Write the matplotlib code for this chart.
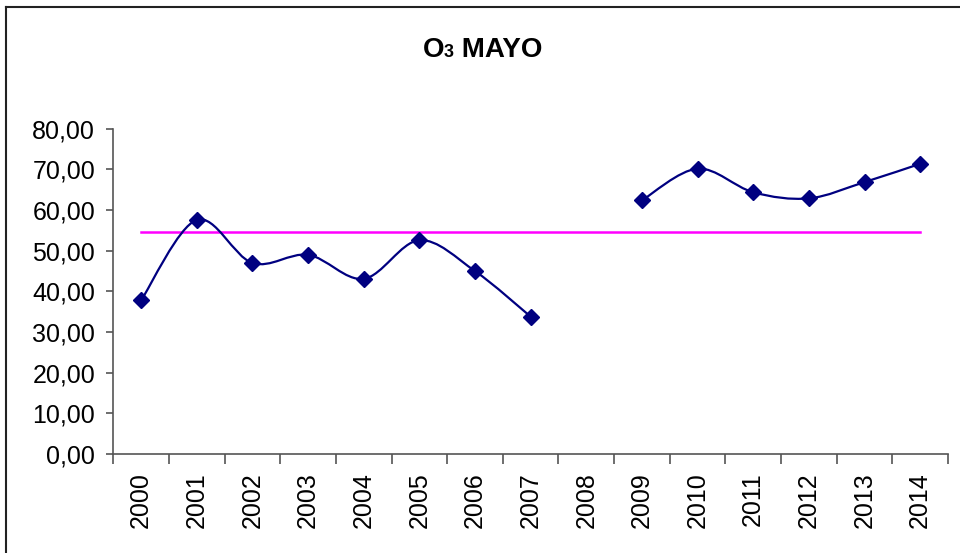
import numpy as np
import matplotlib
matplotlib.use("Agg")
import matplotlib.pyplot as plt
from matplotlib.path import Path
from matplotlib.patches import PathPatch
from matplotlib.lines import Line2D
from matplotlib.ticker import FixedLocator, FuncFormatter

plt.rcParams['font.family'] = ['Liberation Sans', 'DejaVu Sans']

# datos O3 mayo
anios = ['2000', '2001', '2002', '2003', '2004', '2005', '2006', '2007',
         '2008', '2009', '2010', '2011', '2012', '2013', '2014']
o3 = [37.8, 57.6, 47.0, 49.0, 43.1, 52.6, 45.0, 33.8,
      np.nan, 62.4, 70.2, 64.4, 62.9, 66.9, 71.4]
limite = 54.5

azul = '#000080'
magenta = '#FF00FF'


def curva_suave(xs, ys):
    # bezier tipo Excel (catmull-rom) por tramos
    verts = [(xs[0], ys[0])]
    codes = [Path.MOVETO]
    n = len(xs)
    for i in range(n - 1):
        x0, y0 = (xs[i - 1], ys[i - 1]) if i > 0 else (xs[i], ys[i])
        x3, y3 = (xs[i + 2], ys[i + 2]) if i + 2 < n else (xs[i + 1], ys[i + 1])
        c1 = (xs[i] + (xs[i + 1] - x0) / 6, ys[i] + (ys[i + 1] - y0) / 6)
        c2 = (xs[i + 1] - (x3 - xs[i]) / 6, ys[i + 1] - (y3 - ys[i]) / 6)
        verts += [c1, c2, (xs[i + 1], ys[i + 1])]
        codes += [Path.CURVE4] * 3
    return Path(verts, codes)


fig = plt.figure(figsize=(9.6, 5.53), dpi=100)
ax = fig.add_axes([0.118, 0.179, 0.8695, 0.588])

x = np.arange(len(anios))
y = np.array(o3)

# tramos sin huecos
tramo = []
for xi, yi in zip(x, y):
    if np.isnan(yi):
        if len(tramo) > 1:
            xs, ys = zip(*tramo)
            ax.add_patch(PathPatch(curva_suave(xs, ys), fill=False, ec=azul, lw=1.6, zorder=3))
        tramo = []
    else:
        tramo.append((xi, yi))
if len(tramo) > 1:
    xs, ys = zip(*tramo)
    ax.add_patch(PathPatch(curva_suave(xs, ys), fill=False, ec=azul, lw=1.6, zorder=3))

ax.plot(x, y, linestyle='none', marker='D', markersize=8, color=azul, zorder=4)
ax.plot([x[0], x[-1]], [limite, limite], color=magenta, lw=1.8, zorder=2)

ax.set_xlim(-0.5, len(anios) - 0.5)
ax.set_ylim(0, 80)
ax.set_yticks(np.arange(0, 81, 10))
ax.yaxis.set_major_formatter(FuncFormatter(lambda v, p: f'{v:.2f}'.replace('.', ',')))
ax.xaxis.set_major_locator(FixedLocator(np.arange(-0.5, len(anios), 1)))
ax.xaxis.set_major_formatter(FuncFormatter(lambda v, p: ''))
ax.xaxis.set_minor_locator(FixedLocator(x))
ax.set_xticklabels(anios, minor=True, rotation=90)

for s in ['top', 'right']:
    ax.spines[s].set_visible(False)
for s in ['left', 'bottom']:
    ax.spines[s].set_color('#555555')
    ax.spines[s].set_linewidth(1.2)
ax.tick_params(axis='y', direction='out', length=5, width=1.2, color='#555555',
               labelsize=18, pad=8)
ax.tick_params(axis='x', which='major', direction='out', length=7, width=1.2, color='#555555')
ax.tick_params(axis='x', which='minor', length=0, labelsize=18, pad=13)

# marco del grafico
fig.add_artist(Line2D([0.0065, 0.0065], [0, 0.988], transform=fig.transFigure, color='#222222', lw=1.5))
fig.add_artist(Line2D([0.0065, 1.0], [0.988, 0.988], transform=fig.transFigure, color='#222222', lw=1.5))

# titulo O3 con subindice
partes = [('O', 20), ('3', 13), (' MAYO', 20)]
textos = [fig.text(0, 0.8975, t, fontsize=s, fontweight='bold', va='baseline', ha='left')
          for t, s in partes]
fig.canvas.draw()
r = fig.canvas.get_renderer()
anchos = [t.get_window_extent(r).width for t in textos]
x0 = 0.5026 * fig.bbox.width - sum(anchos) / 2
for t, w in zip(textos, anchos):
    t.set_x(x0 / fig.bbox.width)
    x0 += w

fig.savefig('out.png', dpi=100)
